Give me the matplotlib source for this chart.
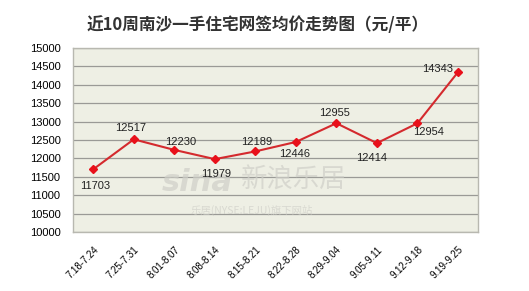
import matplotlib
matplotlib.use("Agg")
import matplotlib.pyplot as plt

plt.rcParams['font.family'] = ['Noto Sans CJK SC', 'DejaVu Sans']

weeks = ["7.18-7.24", "7.25-7.31", "8.01-8.07", "8.08-8.14", "8.15-8.21",
         "8.22-8.28", "8.29-9.04", "9.05-9.11", "9.12-9.18", "9.19-9.25"]
prices = [11703, 12517, 12230, 11979, 12189, 12446, 12955, 12414, 12954, 14343]
yticks = list(range(10000, 15001, 500))

# label offsets from each point, in pixels
label_offsets = [(2, -17), (-3, 11), (6, 8), (1, -15), (1, 9),
                 (-1, -12), (-2, 10), (-5, -15), (11, -9), (-20, 3)]

fig = plt.figure(figsize=(5.29, 2.91), dpi=100)
ax = fig.add_axes([0.138, 0.203, 0.766, 0.632])
ax.set_facecolor("#eeefe4")

# watermark (behind line and labels)
wm = dict(transform=fig.transFigure, color="#cfcfc8", alpha=0.7, zorder=1)
ax.text(0.305, 0.345, "sina", fontsize=22, style="italic", fontweight="bold",
        family="DejaVu Sans", **wm)
ax.text(0.455, 0.355, "新浪乐居", fontsize=19, style="italic", **wm)
ax.text(0.36, 0.265, "乐居(NYSE:LEJU)旗下网站", fontsize=7.5, **wm)

x = list(range(len(weeks)))
ax.plot(x, prices, color="#d42a2e", lw=1.5, marker="D", ms=4,
        mfc="#e8101a", mec="#e8101a", zorder=3)

for i, v in enumerate(prices):
    ax.annotate(str(v), (i, v), xytext=label_offsets[i], textcoords="offset pixels",
                ha="center", va="center", fontsize=8, color="#222222",
                family="Liberation Sans", zorder=4)

ax.set_xlim(-0.5, len(weeks) - 0.5)
ax.set_ylim(10000, 15000)
ax.set_yticks(yticks)
ax.set_yticklabels([str(t) for t in yticks], fontsize=8, family="Liberation Sans")
ax.set_xticks(x)
ax.set_xticklabels(weeks, rotation=45, ha="right", rotation_mode="anchor",
                   fontsize=7, family="Liberation Sans")
ax.tick_params(axis="y", length=0, pad=9)
ax.tick_params(axis="x", length=0, pad=9)
ax.yaxis.grid(True, color="#9a9a96", lw=0.9)
ax.set_axisbelow(True)
for s in ax.spines.values():
    s.set_color("#b8b8b0")
    s.set_linewidth(1.0)

fig.text(0.486, 0.915, "近10周南沙一手住宅网签均价走势图（元/平）", ha="center",
         va="center", fontsize=12, fontweight="bold", color="#333333")

fig.savefig("out.png", dpi=100)
